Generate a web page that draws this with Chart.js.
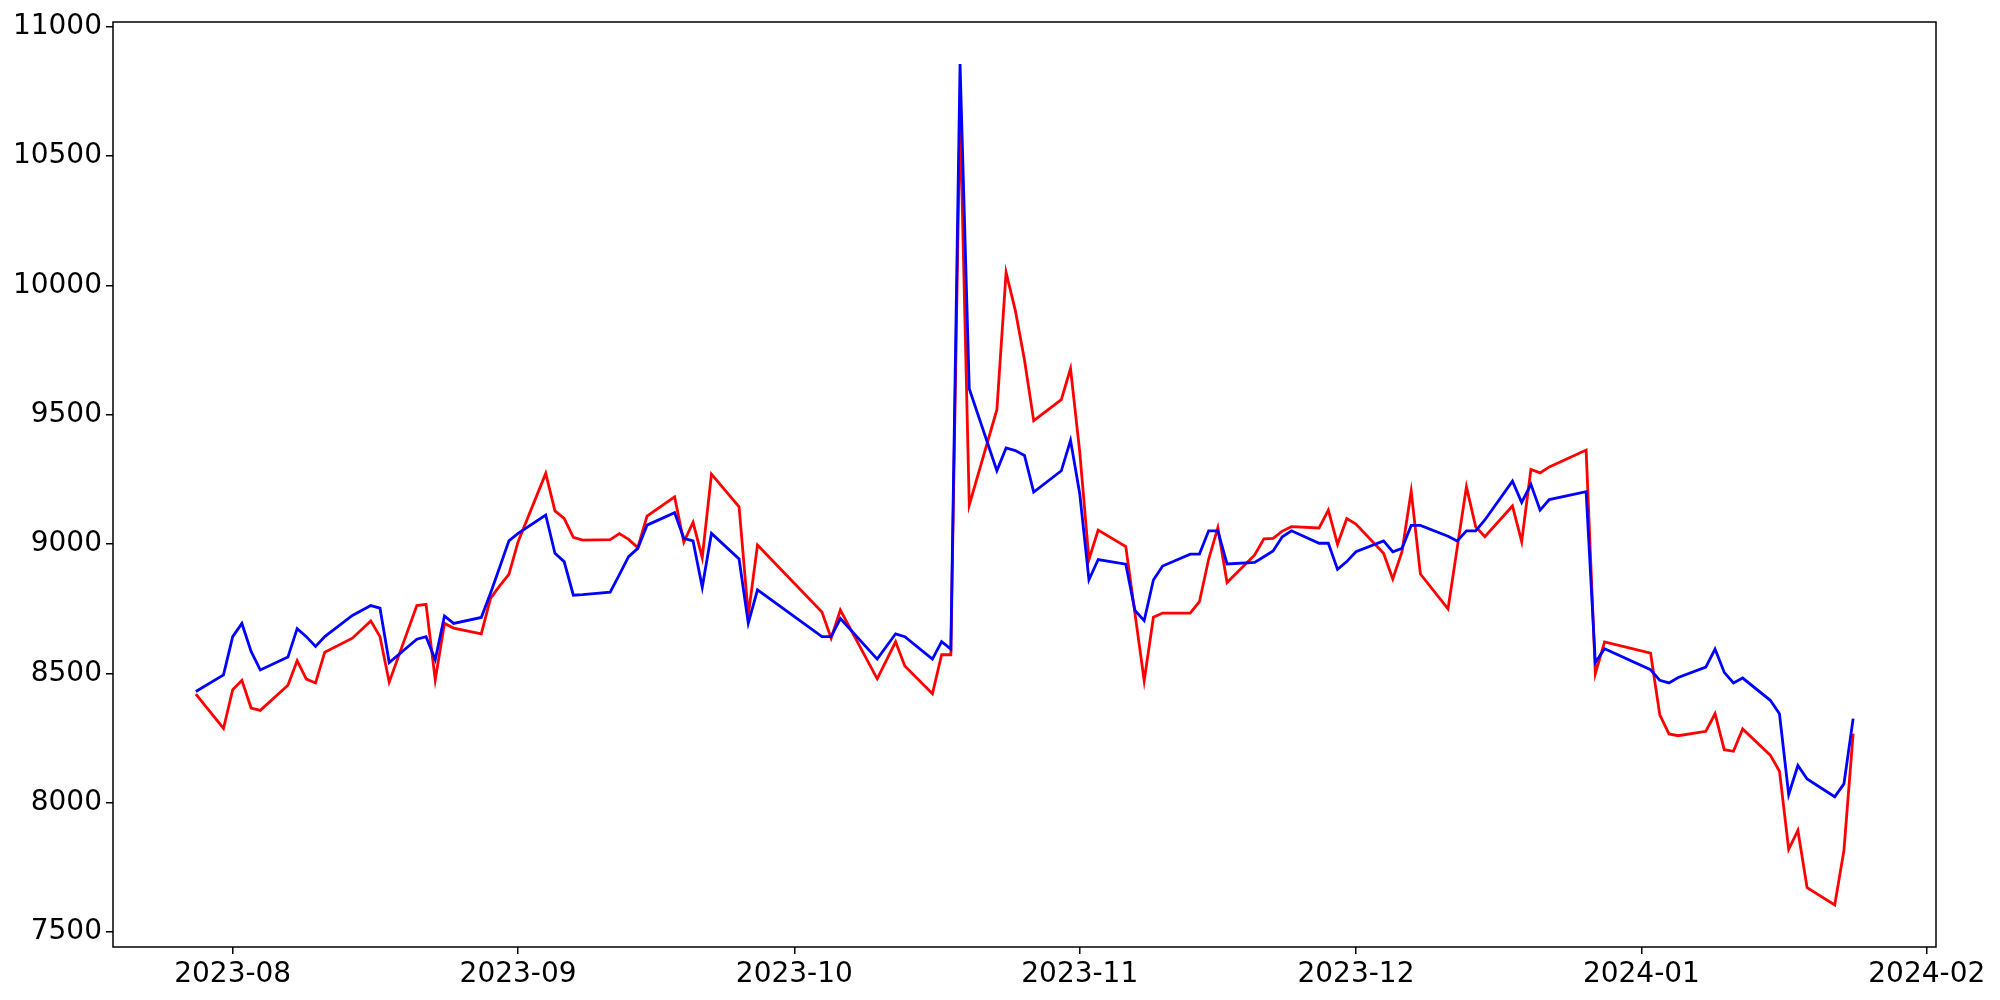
<!DOCTYPE html>
<html>
<head>
<meta charset="utf-8">
<script src="https://cdn.jsdelivr.net/npm/chart.js@4.4.0/dist/chart.umd.min.js"></script>
<style>
  html, body { margin: 0; padding: 0; background: #ffffff; }
  #wrap { width: 2000px; height: 1000px; }
</style>
</head>
<body>
<div id="wrap"><canvas id="chart" width="2000" height="1000"></canvas></div>
<script>
  // trading days
  const dates = [
    "2023-07-28", "2023-07-31", "2023-08-01", "2023-08-02", "2023-08-03", "2023-08-04",
    "2023-08-07", "2023-08-08", "2023-08-09", "2023-08-10", "2023-08-11",
    "2023-08-14", "2023-08-16", "2023-08-17", "2023-08-18",
    "2023-08-21", "2023-08-22", "2023-08-23", "2023-08-24", "2023-08-25",
    "2023-08-28", "2023-08-29", "2023-08-30", "2023-08-31", "2023-09-01",
    "2023-09-04", "2023-09-05", "2023-09-06", "2023-09-07", "2023-09-08",
    "2023-09-11", "2023-09-12", "2023-09-13", "2023-09-14", "2023-09-15",
    "2023-09-18", "2023-09-19", "2023-09-20", "2023-09-21", "2023-09-22",
    "2023-09-25", "2023-09-26", "2023-09-27",
    "2023-10-04", "2023-10-05", "2023-10-06",
    "2023-10-10", "2023-10-12", "2023-10-13",
    "2023-10-16", "2023-10-17", "2023-10-18", "2023-10-19", "2023-10-20",
    "2023-10-23", "2023-10-24", "2023-10-25", "2023-10-26", "2023-10-27",
    "2023-10-30", "2023-10-31", "2023-11-01", "2023-11-02", "2023-11-03",
    "2023-11-06", "2023-11-07", "2023-11-08", "2023-11-09", "2023-11-10",
    "2023-11-13", "2023-11-14", "2023-11-15", "2023-11-16", "2023-11-17",
    "2023-11-20", "2023-11-21", "2023-11-22", "2023-11-23", "2023-11-24",
    "2023-11-27", "2023-11-28", "2023-11-29", "2023-11-30", "2023-12-01",
    "2023-12-04", "2023-12-05", "2023-12-06", "2023-12-07", "2023-12-08",
    "2023-12-11", "2023-12-12", "2023-12-13", "2023-12-14", "2023-12-15",
    "2023-12-18", "2023-12-19", "2023-12-20", "2023-12-21", "2023-12-22",
    "2023-12-26", "2023-12-27", "2023-12-28",
    "2024-01-02", "2024-01-03", "2024-01-04", "2024-01-05",
    "2024-01-08", "2024-01-09", "2024-01-10", "2024-01-11", "2024-01-12",
    "2024-01-15", "2024-01-16", "2024-01-17", "2024-01-18", "2024-01-19",
    "2024-01-22", "2024-01-23", "2024-01-24"
  ];

  const blueValues = [
    8430, 8494, 8642, 8693, 8585, 8513,
    8563, 8673, 8642, 8604, 8642,
    8724, 8762, 8752, 8542,
    8632, 8642, 8553, 8722, 8693,
    8716, 8810, 8910, 9012, 9041,
    9112, 8964, 8932, 8802, 8804,
    8814, 8882, 8951, 8983, 9073,
    9121, 9022, 9012, 8833, 9041,
    8942, 8694, 8823,
    8642, 8642, 8712,
    8555, 8653, 8642,
    8555, 8623, 8594, 10855, 9600,
    9283, 9371, 9361, 9342, 9201,
    9283, 9401, 9194, 8862, 8940,
    8922, 8743, 8704, 8861, 8915,
    8961, 8961, 9051, 9051, 8923,
    8929, 8951, 8973, 9028, 9051,
    9003, 9003, 8902, 8932, 8970,
    9012, 8970, 8983, 9072, 9072,
    9030, 9012, 9051, 9051, 9093,
    9243, 9161, 9231, 9131, 9172,
    9202, 8542, 8595,
    8514, 8473, 8463, 8484,
    8524, 8594, 8504, 8463, 8482,
    8396, 8344, 8032, 8144, 8092,
    8023, 8073, 8325
  ];

  const redValues = [
    8420, 8287, 8437, 8473, 8366, 8357,
    8454, 8549, 8478, 8463, 8582,
    8636, 8703, 8642, 8466,
    8762, 8767, 8475, 8693, 8675,
    8653, 8790, 8838, 8883, 9009,
    9273, 9128, 9099, 9026, 9015,
    9017, 9040, 9018, 8986, 9108,
    9182, 9007, 9084, 8947, 9270,
    9144, 8726, 8996,
    8737, 8636, 8745,
    8479, 8622, 8529,
    8421, 8572, 8572, 10675, 9150,
    9519, 10050, 9903, 9711, 9477,
    9558, 9678, 9356, 8940, 9054,
    8990, 8731, 8472, 8717, 8733,
    8733, 8777, 8941, 9063, 8851,
    8958, 9020, 9022, 9050, 9067,
    9062, 9131, 8999, 9098, 9077,
    8964, 8865, 8970, 9204, 8884,
    8749, 8986, 9221, 9067, 9028,
    9147, 9009, 9288, 9275, 9298,
    9363, 8499, 8622,
    8578, 8340, 8266, 8259,
    8276, 8344, 8205, 8199, 8285,
    8184, 8122, 7820, 7893, 7672,
    7605, 7816, 8267
  ];

  const monthTicks = ["2023-08-01", "2023-09-01", "2023-10-01", "2023-11-01", "2023-12-01", "2024-01-01", "2024-02-01"];
  const yTicks = [7500, 8000, 8500, 9000, 9500, 10000, 10500, 11000];

  function toMs(s) {
    const p = s.split("-").map(Number);
    return Date.UTC(p[0], p[1] - 1, p[2]);
  }

  function monthLabel(ms) {
    const d = new Date(ms);
    return d.getUTCFullYear() + "-" + String(d.getUTCMonth() + 1).padStart(2, "0");
  }

  const xs = dates.map(toMs);
  const xSpan = xs[xs.length - 1] - xs[0];
  const allValues = blueValues.concat(redValues);
  const yLo = Math.min(...allValues);
  const yHi = Math.max(...allValues);
  const ySpan = yHi - yLo;

  // matplotlib-like closed frame around the plot area
  const frameBox = {
    id: "frameBox",
    afterDraw(chart) {
      const { ctx, chartArea: a } = chart;
      ctx.save();
      ctx.strokeStyle = "#000000";
      ctx.lineWidth = 1.5;
      ctx.strokeRect(a.left, a.top, a.right - a.left, a.bottom - a.top);
      ctx.restore();
    }
  };

  const tickFont = { family: "DejaVu Sans", size: 28 };

  new Chart(document.getElementById("chart"), {
    type: "line",
    data: {
      datasets: [
        {
          label: "blue",
          data: xs.map((x, i) => ({ x: x, y: blueValues[i] })),
          borderColor: "#0000ff",
          borderWidth: 2.8,
          pointRadius: 0,
          tension: 0,
          fill: false
        },
        {
          label: "red",
          data: xs.map((x, i) => ({ x: x, y: redValues[i] })),
          borderColor: "#ff0000",
          borderWidth: 2.8,
          pointRadius: 0,
          tension: 0,
          fill: false
        }
      ]
    },
    options: {
      responsive: false,
      animation: false,
      devicePixelRatio: 1,
      layout: { padding: { left: 0, top: 22, right: 64, bottom: 0 } },
      plugins: {
        legend: { display: false },
        tooltip: { enabled: false }
      },
      scales: {
        x: {
          type: "linear",
          min: xs[0] - 0.05 * xSpan,
          max: xs[xs.length - 1] + 0.05 * xSpan,
          border: { display: false },
          grid: { drawOnChartArea: false, color: "#000000", lineWidth: 1.5, tickLength: 7 },
          afterBuildTicks(scale) {
            scale.ticks = monthTicks.map((d) => ({ value: toMs(d) }));
          },
          afterFit(scale) {
            scale.height = 53;
          },
          ticks: {
            color: "#000000",
            font: tickFont,
            padding: 4,
            maxRotation: 0,
            autoSkip: false,
            callback: (value) => monthLabel(value)
          }
        },
        y: {
          type: "linear",
          min: yLo - 0.05 * ySpan,
          max: yHi + 0.05 * ySpan,
          border: { display: false },
          grid: { drawOnChartArea: false, color: "#000000", lineWidth: 1.5, tickLength: 7 },
          afterBuildTicks(scale) {
            scale.ticks = yTicks.map((v) => ({ value: v }));
          },
          afterFit(scale) {
            scale.width = 113;
          },
          ticks: {
            color: "#000000",
            font: tickFont,
            padding: 4,
            autoSkip: false,
            callback: (value) => String(value)
          }
        }
      }
    },
    plugins: [frameBox]
  });
</script>
</body>
</html>
